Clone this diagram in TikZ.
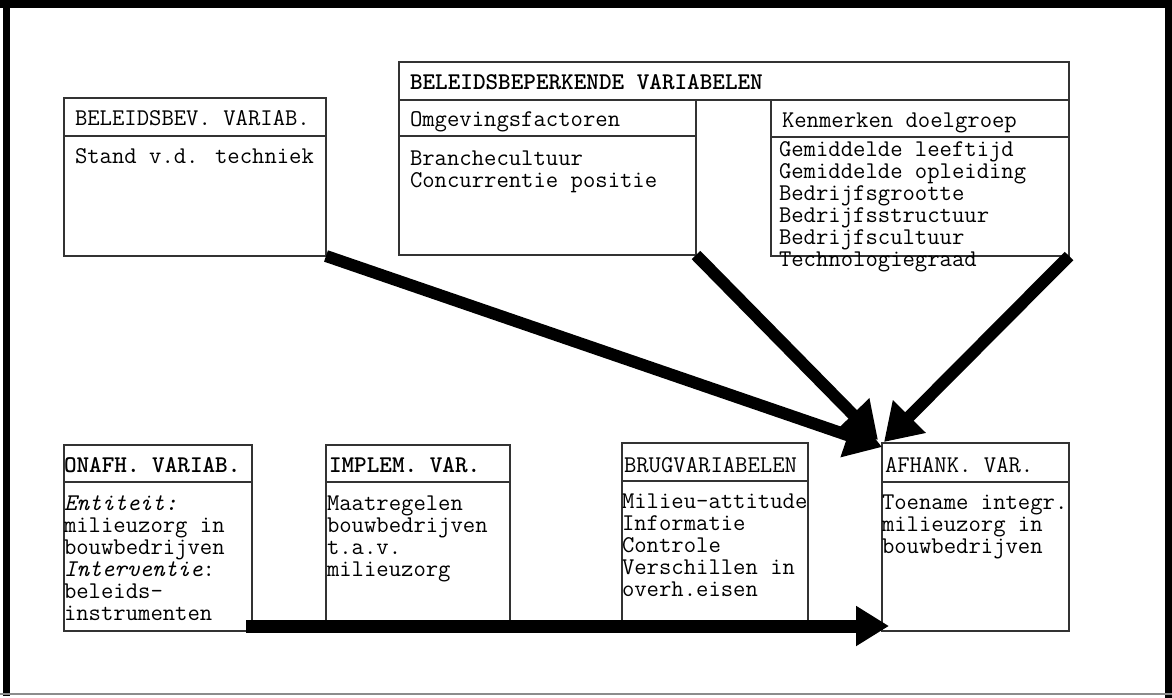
\documentclass[tikz,border=0pt]{standalone}
\usepackage{fontspec}
\usetikzlibrary{arrows.meta}
\begin{document}
\begin{tikzpicture}[x=1pt,y=-1pt,
  box/.style={draw=black!80, line width=1.2pt, inner sep=0pt, outer sep=0pt, anchor=north west},
  divider/.style={draw=black!80, line width=1.2pt},
  txt/.style={anchor=base west, inner sep=0pt, outer sep=0pt, font=\ttfamily\fontsize{24}{22}\selectfont},
  btxt/.style={txt, font=\ttfamily\bfseries\fontsize{24}{22}\selectfont},
  arr/.style={line width=12pt, -{Triangle[length=36pt,width=44pt]}},
  barr/.style={line width=13pt, -{Triangle[length=33pt,width=38pt]}},
  frame/.style={fill=black}]
\useasboundingbox (0,0) rectangle (1172,698);
% outer frame
\fill[frame] (0,0) rectangle (1172,8);
\fill[frame] (3,0) rectangle (10,696);
\fill[frame] (1165,0) rectangle (1172,698);
\draw[black!45, line width=2pt] (0,694) -- (1172,694);

% top-left box
\node[box, minimum width=262pt, minimum height=158pt] (bev) at (64,98) {};
\draw[divider] (64,136) -- (326,136);
\node[txt] (bevh) at (75,125) {BELEIDSBEV. VARIAB.};
\node[txt] (bev1) at (75,164) {Stand v.d. techniek};

% beleidsbeperkende
\node[box, minimum width=670pt, minimum height=38pt] (bbv) at (399,62) {};
\node[btxt] (bbvh) at (410,90) {BELEIDSBEPERKENDE VARIABELEN};
\node[box, minimum width=297pt, minimum height=155pt] (omg) at (399,100) {};
\draw[divider] (399,136) -- (696,136);
\node[txt] (omgh) at (410,127) {Omgevingsfactoren};
\node[txt] (omg1) at (410,165) {Branchecultuur};
\node[txt] (omg2) at (410,187) {Concurrentie positie};
\node[box, minimum width=298pt, minimum height=156pt] (ken) at (771,100) {};
\draw[divider] (771,137) -- (1069,137);
\node[txt] (kenh) at (782,128) {Kenmerken doelgroep};
\foreach \t [count=\i] in {Gemiddelde leeftijd, Gemiddelde opleiding, Bedrijfsgrootte, Bedrijfsstructuur, Bedrijfscultuur, Technologiegraad}
  \node[txt] (ken\i) at (779, 134+22*\i) {\t};

% bottom row
\node[box, minimum width=188pt, minimum height=186pt] (ona) at (64,445) {};
\draw[divider] (64,482) -- (252,482);
\node[btxt] (onah) at (64,472) {ONAFH. VARIAB.};
\foreach \t [count=\i] in {{\itshape Entiteit:}, milieuzorg in, bouwbedrijven, {{\itshape Interventie}:}, beleids-, instrumenten}
  \node[txt] (ona\i) at (64, 488+22*\i) {\t};

\node[box, minimum width=184pt, minimum height=180pt] (imp) at (326,445) {};
\draw[divider] (326,482) -- (510,482);
\node[btxt] (imph) at (329,472) {IMPLEM. VAR.};
\foreach \t [count=\i] in {Maatregelen, bouwbedrijven, t.a.v., milieuzorg}
  \node[txt] (imp\i) at (327, 488+22*\i) {\t};

\node[box, minimum width=186pt, minimum height=182pt] (brug) at (622,443) {};
\draw[divider] (622,481) -- (808,481);
\node[txt] (brugh) at (624,472) {BRUGVARIABELEN};
\foreach \t [count=\i] in {Milieu-attitude, Informatie, Controle, Verschillen in, overh.eisen}
  \node[txt] (brug\i) at (622, 486+22*\i) {\t};

\node[box, minimum width=187pt, minimum height=188pt] (afh) at (882,443) {};
\draw[divider] (882,482) -- (1069,482);
\node[txt] (afhh) at (885,472) {AFHANK. VAR.};
\foreach \t [count=\i] in {Toename integr., milieuzorg in, bouwbedrijven}
  \node[txt] (afh\i) at (882, 487+22*\i) {\t};

% arrows
\coordinate (t1) at (882,447);
\coordinate (t2) at (878,440);
\coordinate (t3) at (884,442);
\draw[arr] (bev.south east) -- (t1);
\draw[arr] (omg.south east) -- (t2);
\draw[arr] (ken.south east) -- (t3);
\coordinate (bs) at (246,626);
\coordinate (be) at (889,626);
\draw[barr] (bs) -- (be);
\end{tikzpicture}
\end{document}
